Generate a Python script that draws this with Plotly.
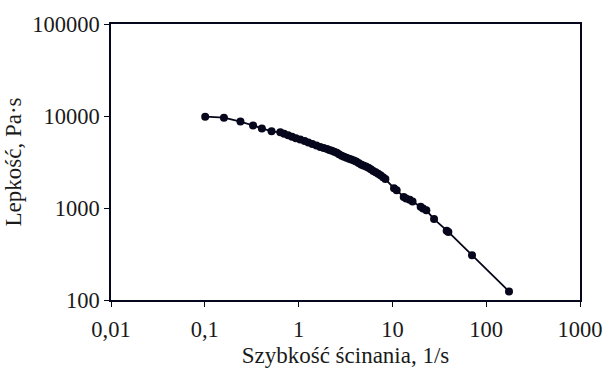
import plotly.graph_objects as go

shear_rate = [0.101, 0.160, 0.240, 0.327, 0.406, 0.515, 0.638, 0.700, 0.773, 0.850,
              0.935, 1.04, 1.16, 1.27, 1.40, 1.55, 1.70, 1.85, 2.01, 2.13,
              2.26, 2.40, 2.55, 2.70, 2.88, 3.05, 3.24, 3.45, 3.65, 3.88,
              4.11, 4.36, 4.63, 4.90, 5.22, 5.55, 5.89, 6.25, 6.63, 7.05,
              7.47, 7.95, 8.42, 10.4, 11.1, 13.2, 14.0, 15.3, 16.4, 20.0,
              21.2, 23.0, 27.8, 37.9, 39.5, 70.6, 175]
viscosity = [9840, 9590, 8710, 7890, 7330, 6820, 6650, 6400, 6180, 5960,
             5740, 5540, 5340, 5150, 4960, 4780, 4610, 4500, 4390, 4280,
             4180, 4080, 3980, 3840, 3700, 3610, 3520, 3440, 3360, 3280,
             3200, 3080, 2970, 2900, 2830, 2730, 2630, 2530, 2440, 2350,
             2270, 2160, 2060, 1640, 1560, 1320, 1270, 1230, 1180, 1030,
             990, 944, 757, 565, 550, 307, 124]

x_tickvals = [0.01, 0.1, 1, 10, 100, 1000]
x_ticktext = ["0,01", "0,1", "1", "10", "100", "1000"]
y_tickvals = [100, 1000, 10000, 100000]
y_ticktext = ["100", "1000", "10000", "100000"]

ink = "#06061c"
family = "Liberation Serif, Times New Roman, serif"
tick_font = dict(family=family, size=22.5, color="#1a1a1a")
title_font = dict(family=family, size=23, color="#1a1a1a")

fig = go.Figure(go.Scatter(
    x=shear_rate, y=viscosity, mode="lines+markers",
    line=dict(color=ink, width=1.8),
    marker=dict(symbol="circle", size=8, color=ink),
))

axis_common = dict(
    showgrid=False, zeroline=False, showline=True, linecolor=ink, linewidth=1.5,
    mirror=True, ticks="outside", ticklen=5, tickwidth=1.2, tickcolor=ink,
    tickfont=tick_font,
)
fig.update_xaxes(type="log", range=[-2, 3], tickvals=x_tickvals, ticktext=x_ticktext,
                 ticklabelstandoff=3,
                 title=dict(text="Szybkość ścinania, 1/s", font=title_font, standoff=6),
                 **axis_common)
fig.update_yaxes(type="log", range=[2, 5], tickvals=y_tickvals, ticktext=y_ticktext,
                 title=dict(text="Lepkość, Pa·s", font=title_font, standoff=4),
                 **axis_common)
fig.update_layout(
    width=615, height=376, margin=dict(l=103, r=30, t=22, b=71),
    paper_bgcolor="white", plot_bgcolor="white", showlegend=False, font=tick_font,
)
fig.write_html("out.html", config={"displayModeBar": False},
               post_script="document.body.style.margin='0';document.body.style.padding='0';")
